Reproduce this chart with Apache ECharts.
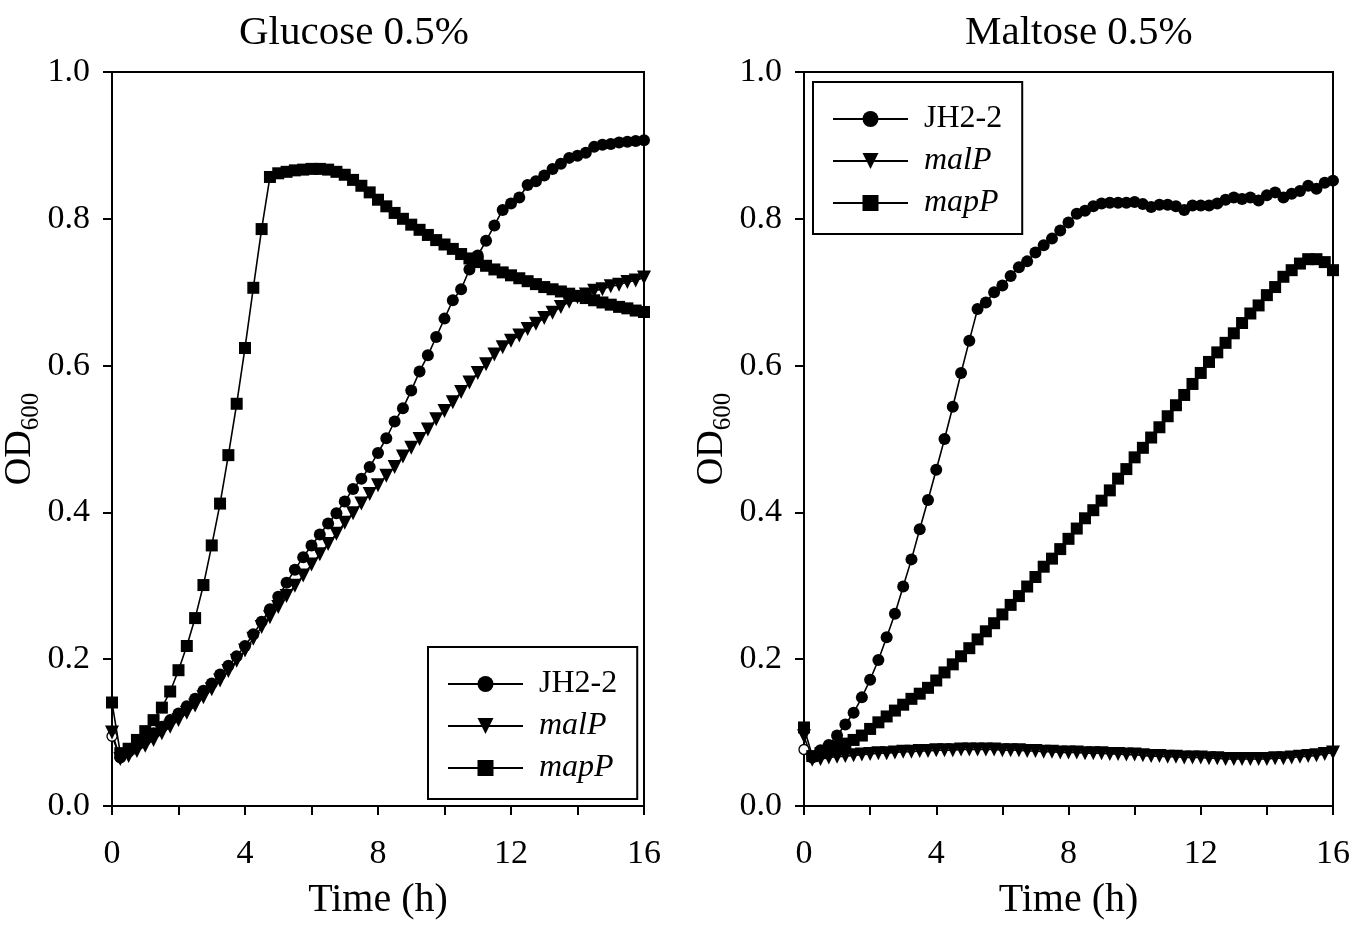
<!DOCTYPE html>
<html>
<head>
<meta charset="utf-8">
<script src="https://cdn.jsdelivr.net/npm/echarts@6/dist/echarts.min.js"></script>
<style>
  html, body { margin: 0; padding: 0; background: #fff; }
  #growth { width: 1353px; height: 925px; }
</style>
</head>
<body>
<div id="growth"></div>
<script>
'use strict';

// sampling times (h), one reading every 15 min
var hours = [0, 0.25, 0.5, 0.75, 1, 1.25, 1.5, 1.75, 2, 2.25, 2.5, 2.75, 3, 3.25, 3.5, 3.75,
    4, 4.25, 4.5, 4.75, 5, 5.25, 5.5, 5.75, 6, 6.25, 6.5, 6.75, 7, 7.25, 7.5, 7.75,
    8, 8.25, 8.5, 8.75, 9, 9.25, 9.5, 9.75, 10, 10.25, 10.5, 10.75, 11, 11.25, 11.5, 11.75,
    12, 12.25, 12.5, 12.75, 13, 13.25, 13.5, 13.75, 14, 14.25, 14.5, 14.75, 15, 15.25, 15.5, 15.75, 16];

var strains = ['JH2-2', 'malP', 'mapP'];
var panelTitles = ['Glucose 0.5%', 'Maltose 0.5%'];

// glucose 0.5% (OD600)
var glucoseJH2 = [0.095, 0.066, 0.074, 0.083, 0.090, 0.099, 0.108, 0.117, 0.126, 0.136,
    0.146, 0.157, 0.167, 0.179, 0.191, 0.204, 0.218, 0.234, 0.251, 0.268,
    0.285, 0.304, 0.322, 0.339, 0.355, 0.370, 0.385, 0.399, 0.415, 0.432,
    0.446, 0.462, 0.481, 0.501, 0.524, 0.542, 0.566, 0.592, 0.614, 0.639,
    0.664, 0.689, 0.704, 0.731, 0.750, 0.770, 0.791, 0.812, 0.821, 0.829,
    0.846, 0.851, 0.859, 0.868, 0.875, 0.883, 0.886, 0.890, 0.898, 0.901,
    0.902, 0.904, 0.905, 0.906, 0.907];
var glucoseMalP = [0.100, 0.064, 0.068, 0.075, 0.082, 0.090, 0.099, 0.108, 0.117, 0.127,
    0.137, 0.148, 0.159, 0.171, 0.184, 0.198, 0.212, 0.228, 0.244, 0.257,
    0.271, 0.286, 0.300, 0.314, 0.329, 0.343, 0.357, 0.371, 0.386, 0.399,
    0.412, 0.425, 0.437, 0.450, 0.462, 0.476, 0.488, 0.500, 0.513, 0.527,
    0.538, 0.550, 0.564, 0.577, 0.590, 0.602, 0.615, 0.625, 0.634, 0.641,
    0.650, 0.657, 0.665, 0.672, 0.680, 0.687, 0.693, 0.697, 0.702, 0.704,
    0.708, 0.710, 0.714, 0.716, 0.720];
var glucoseMapP = [0.141, 0.072, 0.078, 0.090, 0.102, 0.117, 0.134, 0.156, 0.185, 0.218,
    0.256, 0.301, 0.355, 0.412, 0.478, 0.548, 0.624, 0.706, 0.786, 0.857,
    0.862, 0.864, 0.866, 0.867, 0.868, 0.868, 0.867, 0.864, 0.860, 0.853,
    0.845, 0.836, 0.826, 0.817, 0.808, 0.800, 0.792, 0.785, 0.778, 0.771,
    0.765, 0.759, 0.752, 0.746, 0.741, 0.736, 0.731, 0.727, 0.723, 0.719,
    0.715, 0.711, 0.707, 0.704, 0.701, 0.698, 0.695, 0.692, 0.689, 0.686,
    0.683, 0.680, 0.678, 0.675, 0.673];

// maltose 0.5% (OD600)
var maltoseJH2 = [0.077, 0.066, 0.076, 0.083, 0.096, 0.111, 0.127, 0.148, 0.172, 0.199,
    0.230, 0.262, 0.299, 0.336, 0.377, 0.417, 0.458, 0.500, 0.544, 0.590,
    0.634, 0.677, 0.686, 0.700, 0.709, 0.722, 0.734, 0.742, 0.754, 0.764,
    0.773, 0.784, 0.795, 0.807, 0.811, 0.817, 0.821, 0.822, 0.822, 0.822,
    0.823, 0.820, 0.816, 0.819, 0.819, 0.817, 0.812, 0.818, 0.818, 0.818,
    0.821, 0.826, 0.829, 0.827, 0.829, 0.825, 0.832, 0.836, 0.829, 0.834,
    0.838, 0.845, 0.841, 0.849, 0.852];
var maltoseMalP = [0.095, 0.063, 0.064, 0.066, 0.067, 0.068, 0.069, 0.070, 0.071, 0.072,
    0.072, 0.073, 0.074, 0.074, 0.075, 0.075, 0.076, 0.076, 0.076, 0.077,
    0.077, 0.077, 0.077, 0.077, 0.076, 0.076, 0.076, 0.075, 0.075, 0.074,
    0.074, 0.073, 0.073, 0.073, 0.072, 0.072, 0.072, 0.071, 0.071, 0.070,
    0.070, 0.069, 0.068, 0.068, 0.067, 0.067, 0.066, 0.066, 0.066, 0.065,
    0.065, 0.064, 0.064, 0.064, 0.064, 0.064, 0.064, 0.065, 0.065, 0.066,
    0.067, 0.068, 0.069, 0.071, 0.073];
var maltoseMapP = [0.107, 0.068, 0.072, 0.077, 0.081, 0.085, 0.090, 0.096, 0.105, 0.114,
    0.122, 0.130, 0.138, 0.146, 0.153, 0.161, 0.171, 0.182, 0.193, 0.204,
    0.215, 0.227, 0.238, 0.249, 0.261, 0.274, 0.286, 0.299, 0.312, 0.326,
    0.337, 0.350, 0.364, 0.378, 0.392, 0.403, 0.416, 0.430, 0.446, 0.459,
    0.475, 0.488, 0.502, 0.516, 0.531, 0.546, 0.560, 0.575, 0.590, 0.605,
    0.618, 0.631, 0.644, 0.658, 0.671, 0.682, 0.696, 0.707, 0.721, 0.730,
    0.739, 0.745, 0.745, 0.741, 0.730];

var yTicks = [0, 0.2, 0.4, 0.6, 0.8, 1.0];

var FONT = '"Liberation Serif", "Times New Roman", serif';

// pair the readings with the sampling times
function toPoints(values, hollowFirst) {
    var pts = [];
    for (var i = 0; i < values.length; i++) {
        if (i === 0 && hollowFirst) {
            // first JH2-2 reading is drawn as an open circle
            pts.push({
                value: [hours[i], values[i]],
                symbolSize: 10,
                itemStyle: { color: '#fff', borderColor: '#000', borderWidth: 1.3 }
            });
        } else {
            pts.push([hours[i], values[i]]);
        }
    }
    return pts;
}

var marks = {
    'JH2-2': { symbol: 'circle', size: 12, rotate: 0 },
    'malP': { symbol: 'triangle', size: 14, rotate: 180 },
    'mapP': { symbol: 'rect', size: 12, rotate: 0 }
};

function makeSeries(name, values, idx) {
    var m = marks[name];
    return {
        name: name,
        type: 'line',
        xAxisIndex: idx,
        yAxisIndex: idx,
        data: toPoints(values, name === 'JH2-2'),
        symbol: m.symbol,
        symbolSize: m.size,
        symbolRotate: m.rotate,
        showAllSymbol: true,
        lineStyle: { color: '#000', width: 1.6 },
        itemStyle: { color: '#000' },
        emphasis: { disabled: true },
        animation: false
    };
}

function makeXAxis(idx) {
    return {
        type: 'value',
        gridIndex: idx,
        min: 0,
        max: 16,
        interval: 2,
        name: 'Time (h)',
        nameLocation: 'middle',
        nameGap: 74,
        nameTextStyle: { fontFamily: FONT, fontSize: 40, color: '#000' },
        axisLine: { show: true, onZero: false, lineStyle: { color: '#000', width: 2 } },
        axisTick: { show: true, inside: false, length: 9, lineStyle: { color: '#000', width: 2 } },
        axisLabel: {
            margin: 31,
            fontFamily: FONT,
            fontSize: 34,
            color: '#000',
            formatter: function (v) { return v % 4 === 0 ? String(v) : ''; }
        },
        splitLine: { show: false }
    };
}

function makeYAxis(idx) {
    return {
        type: 'value',
        gridIndex: idx,
        min: yTicks[0],
        max: yTicks[yTicks.length - 1],
        interval: 0.2,
        name: '{a|OD}{b|600}',
        nameLocation: 'middle',
        nameGap: 62,
        nameTextStyle: {
            color: '#000',
            rich: {
                a: { fontFamily: FONT, fontSize: 38, color: '#000' },
                b: { fontFamily: FONT, fontSize: 25, color: '#000', padding: [22, 0, 0, 0] }
            }
        },
        axisLine: { show: true, onZero: false, lineStyle: { color: '#000', width: 2 } },
        axisTick: { show: true, inside: false, length: 9, lineStyle: { color: '#000', width: 2 } },
        axisLabel: {
            margin: 22,
            fontFamily: FONT,
            fontSize: 34,
            color: '#000',
            formatter: function (v) { return v.toFixed(1); }
        },
        splitLine: { show: false }
    };
}

function makeLegend(left, top) {
    return {
        orient: 'vertical',
        left: left,
        top: top,
        data: strains,
        itemWidth: 75,
        itemHeight: 20,
        itemGap: 10,
        padding: [21, 20, 15, 19],
        borderColor: '#000',
        borderWidth: 2,
        selectedMode: false,
        textStyle: {
            fontFamily: FONT,
            fontSize: 32,
            color: '#000',
            padding: [0, 0, 0, 11],
            rich: {
                i: { fontFamily: FONT, fontSize: 32, fontStyle: 'italic', color: '#000' }
            }
        },
        formatter: function (name) {
            return name === 'JH2-2' ? name : '{i|' + name + '}';
        }
    };
}

var chart = echarts.init(document.getElementById('growth'), null, { renderer: 'canvas' });

chart.setOption({
    backgroundColor: '#fff',
    animation: false,
    title: [
        { text: panelTitles[0], left: 234, top: 8, textStyle: { fontFamily: FONT, fontSize: 41, fontWeight: 'normal', color: '#000' } },
        { text: panelTitles[1], left: 960, top: 8, textStyle: { fontFamily: FONT, fontSize: 41, fontWeight: 'normal', color: '#000' } }
    ],
    grid: [
        { left: 112, right: 709, top: 72, bottom: 114, show: true, borderColor: '#000', borderWidth: 2 },
        { left: 804, right: 16, top: 72, bottom: 114, show: true, borderColor: '#000', borderWidth: 2 }
    ],
    legend: [makeLegend(428, 647), makeLegend(813, 82)],
    xAxis: [makeXAxis(0), makeXAxis(1)],
    yAxis: [makeYAxis(0), makeYAxis(1)],
    series: [
        makeSeries('JH2-2', glucoseJH2, 0),
        makeSeries('malP', glucoseMalP, 0),
        makeSeries('mapP', glucoseMapP, 0),
        makeSeries('JH2-2', maltoseJH2, 1),
        makeSeries('malP', maltoseMalP, 1),
        makeSeries('mapP', maltoseMapP, 1)
    ]
});
</script>
</body>
</html>
